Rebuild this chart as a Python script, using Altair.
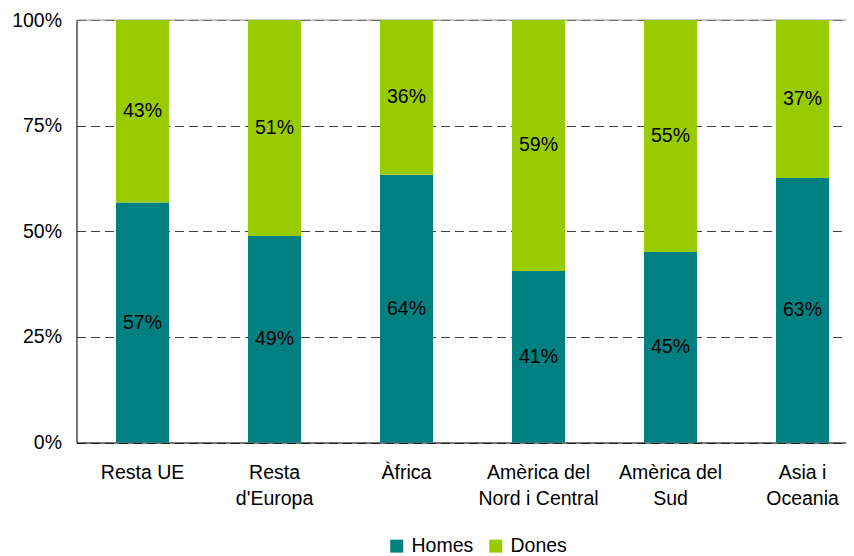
import altair as alt
import pandas as pd

regions = ["Resta UE", "Resta\nd'Europa", "Àfrica", "Amèrica del\nNord i Central", "Amèrica del\nSud", "Asia i\nOceania"]
homes = [56.8, 48.9, 63.4, 40.6, 45.1, 62.6]
dones = [43.2, 51.1, 36.6, 59.4, 54.9, 37.4]
homes_lbl = ["57%", "49%", "64%", "41%", "45%", "63%"]
dones_lbl = ["43%", "51%", "36%", "59%", "55%", "37%"]
series = ["Homes", "Dones"]
colors = ["#008080", "#99CC00"]
y_ticks = [0, 25, 50, 75, 100]

rows = []
for i, r in enumerate(regions):
    rows.append({"region": r, "sexe": "Homes", "ord": 0, "value": homes[i], "lbl": homes_lbl[i]})
    rows.append({"region": r, "sexe": "Dones", "ord": 1, "value": dones[i], "lbl": dones_lbl[i]})
df = pd.DataFrame(rows)

FONT = "Liberation Sans"
FS = 19.5

x_enc = alt.X(
    "region:N",
    sort=regions,
    title=None,
    scale=alt.Scale(paddingInner=0.598, paddingOuter=0.2137, align=0.70),
    axis=alt.Axis(
        labelExpr="split(datum.label, '\\n')",
        labelAngle=0,
        labelFont=FONT,
        labelFontSize=FS,
        labelColor="#000000",
        labelLineHeight=26,
        labelPadding=21,
        ticks=False,
        tickSize=0,
        domainColor="#000000",
        domainWidth=1,
        grid=False,
    ),
)

y_scale = alt.Scale(domain=[0, 100], nice=False, zero=True)

base = alt.Chart(df)

top_rule = alt.Chart(pd.DataFrame({"v": [100]})).mark_rule(color="#9a9a9a", strokeWidth=1).encode(
    y=alt.Y("v:Q", scale=y_scale)
)

bars = base.mark_bar(strokeWidth=0).encode(
    x=x_enc,
    y=alt.Y(
        "value:Q",
        stack="zero",
        scale=y_scale,
        title=None,
        axis=alt.Axis(
            values=y_ticks,
            labelExpr="datum.value + '%'",
            labelFont=FONT,
            labelFontSize=FS,
            labelColor="#000000",
            labelPadding=15,
            ticks=False,
            tickSize=0,
            domainColor="#000000",
            domainWidth=1,
            grid=True,
            gridColor="#404040",
            gridDash=[9, 5],
            gridWidth=1,
        ),
    ),
    color=alt.Color(
        "sexe:N",
        sort=series,
        scale=alt.Scale(domain=series, range=colors),
        legend=alt.Legend(
            title=None,
            orient="none",
            legendX=310.5,
            legendY=516,
            direction="horizontal",
            symbolType="square",
            symbolSize=169,
            symbolStrokeWidth=0,
            symbolOpacity=1,
            labelFont=FONT,
            labelFontSize=FS,
            labelColor="#000000",
            labelOffset=5,
            columnPadding=12,
        ),
    ),
    order=alt.Order("ord:Q", sort="ascending"),
)

labels = base.transform_stack(
    stack="value", groupby=["region"], as_=["v0", "v1"], sort=[alt.SortField("ord", order="ascending")]
).transform_calculate(mid="(datum.v0 + datum.v1) / 2").mark_text(
    font=FONT, fontSize=FS, color="#000000", align="center", baseline="middle"
).encode(
    x=alt.X("region:N", sort=regions),
    y=alt.Y("mid:Q", scale=y_scale),
    text="lbl:N",
)

chart = alt.layer(top_rule, bars, labels).properties(
    width=769.5,
    height=422.5,
    autosize=alt.AutoSizeParams(type="none"),
    padding={"left": 68.5, "top": 12, "right": 0, "bottom": 121.5},
).configure_view(stroke=None).configure(background="#ffffff")

chart.save("out.html", embed_options={"renderer": "svg", "actions": False})
